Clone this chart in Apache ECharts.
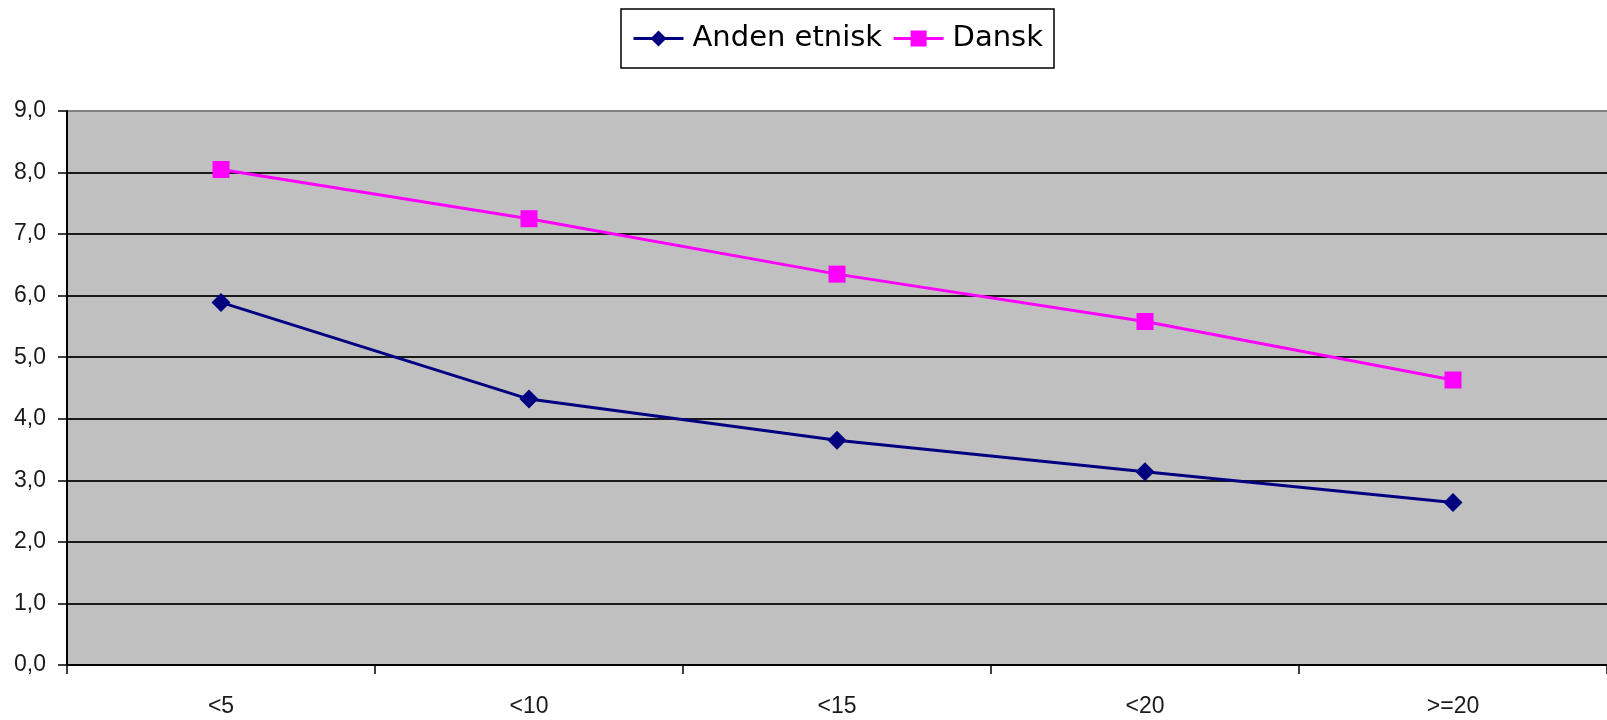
<!DOCTYPE html>
<html>
<head>
<meta charset="utf-8">
<script src="https://cdn.jsdelivr.net/npm/echarts@6/dist/echarts.min.js"></script>
<style>
html,body{margin:0;padding:0;background:#fff;}
#chart{width:1607px;height:720px;}
</style>
</head>
<body>
<div id="chart"></div>
<script>
const categories = ['<5', '<10', '<15', '<20', '>=20'];
const andenEtnisk = [5.89, 4.32, 3.65, 3.14, 2.64];
const dansk = [8.05, 7.25, 6.35, 5.58, 4.63];
const seriesNames = ['Anden etnisk', 'Dansk'];
const yMin = 0, yMax = 9, yStep = 1;

const chart = echarts.init(document.getElementById('chart'));
const splitColors = [];
for (let v = yMin; v <= yMax; v += yStep) splitColors.push(v === yMax ? '#808080' : '#1a1a1a');

chart.setOption({
  animation: false,
  backgroundColor: '#ffffff',
  legend: {
    left: 621,
    top: 9,
    orient: 'horizontal',
    borderColor: '#000',
    borderWidth: 1.5,
    padding: [13, 11, 13, 11],
    itemWidth: 50,
    itemHeight: 20,
    itemGap: 10,
    lineStyle: { width: 3 },
    textStyle: { fontFamily: 'DejaVu Sans', fontSize: 29, color: '#000', lineHeight: 33, padding: [0, 0, 0, 4] },
    data: seriesNames
  },
  grid: {
    left: 67,
    top: 111,
    width: 1544,
    height: 554,
    show: true,
    backgroundColor: '#C0C0C0',
    borderWidth: 0
  },
  xAxis: {
    type: 'category',
    data: categories,
    boundaryGap: true,
    axisLine: { lineStyle: { color: '#000', width: 2 } },
    axisTick: { show: true, alignWithLabel: false, length: 9, lineStyle: { color: '#000', width: 1.5 } },
    axisLabel: { margin: 30, fontFamily: 'Liberation Sans', fontSize: 23, color: '#1a1a1a' },
    splitLine: { show: false }
  },
  yAxis: {
    type: 'value',
    min: yMin,
    max: yMax,
    interval: yStep,
    axisLine: { show: true, lineStyle: { color: '#000', width: 2 } },
    axisTick: { show: true, length: 9, lineStyle: { color: '#000', width: 1.5 } },
    axisLabel: {
      margin: 21,
      fontFamily: 'Liberation Sans',
      fontSize: 23,
      color: '#1a1a1a',
      formatter: v => v.toFixed(1).replace('.', ',')
    },
    splitLine: { show: true, lineStyle: { color: splitColors, width: 2 } }
  },
  series: [
    {
      name: seriesNames[0],
      type: 'line',
      data: andenEtnisk,
      symbol: 'diamond',
      symbolSize: 19,
      color: '#000080',
      lineStyle: { color: '#000080', width: 3 },
      itemStyle: { color: '#000080' }
    },
    {
      name: seriesNames[1],
      type: 'line',
      data: dansk,
      symbol: 'rect',
      symbolSize: 17,
      color: '#FF00FF',
      lineStyle: { color: '#FF00FF', width: 3 },
      itemStyle: { color: '#FF00FF' }
    }
  ]
});
</script>
</body>
</html>
